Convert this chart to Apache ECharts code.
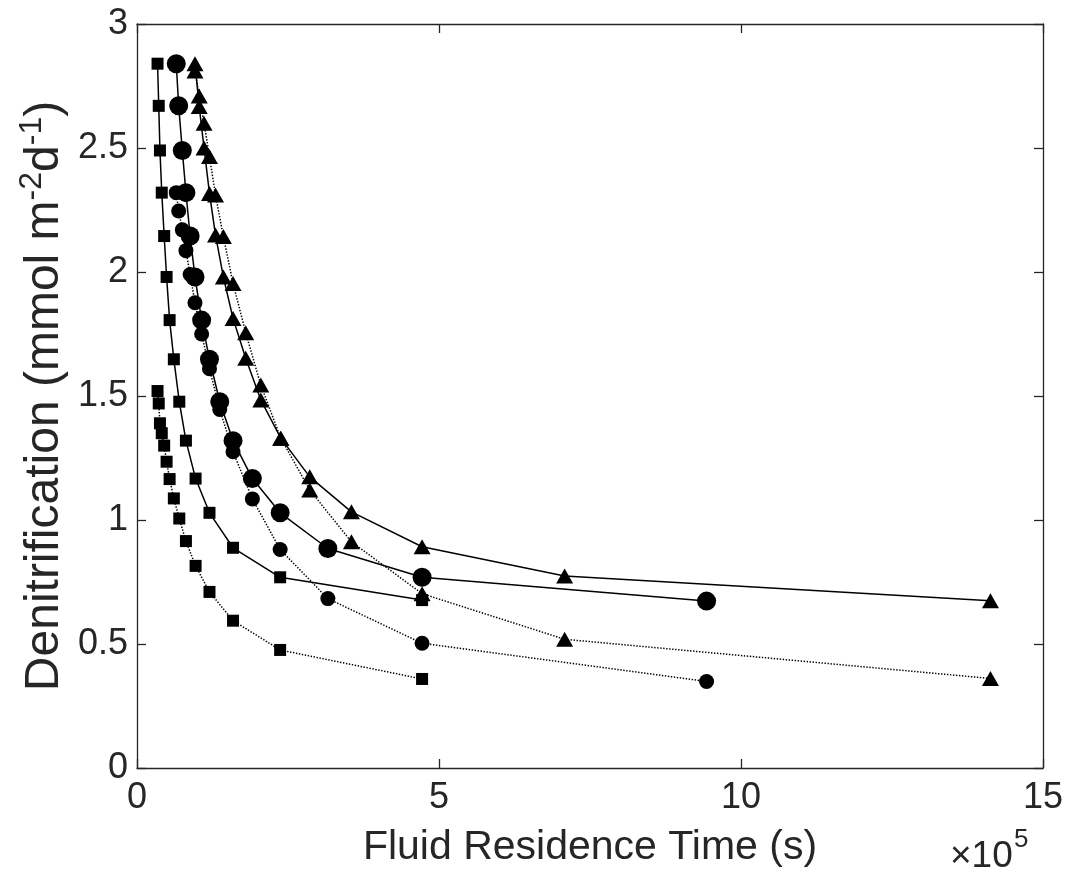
<!DOCTYPE html>
<html>
<head>
<meta charset="utf-8">
<script src="https://cdn.jsdelivr.net/npm/echarts@6/dist/echarts.min.js"></script>
<style>html,body{margin:0;padding:0;background:#fff;}#c{width:1069px;height:875px;}</style>
</head>
<body>
<div id="c"></div>
<script>
// x values in units of 1e5 s
const squareX   = [0.34,0.36,0.38,0.41,0.45,0.49,0.54,0.61,0.70,0.81,0.97,1.20,1.59,2.37,4.72];
const circleX   = [0.65,0.69,0.75,0.81,0.88,0.96,1.07,1.20,1.37,1.59,1.91,2.37,3.16,4.72,9.43];
const triangleX = [0.96,1.03,1.11,1.20,1.30,1.43,1.59,1.80,2.05,2.38,2.86,3.55,4.72,7.08,14.13];

const squareSolidY   = [2.84,2.67,2.49,2.32,2.145,1.98,1.806,1.648,1.477,1.32,1.167,1.029,0.888,0.769,0.677];
const squareDottedY  = [1.52,1.47,1.39,1.35,1.30,1.235,1.165,1.087,1.006,0.915,0.815,0.71,0.594,0.476,0.359];
const circleSolidY   = [2.84,2.67,2.49,2.32,2.145,1.98,1.806,1.648,1.477,1.32,1.167,1.029,0.885,0.769,0.673];
const circleDottedY  = [2.32,2.246,2.17,2.086,1.99,1.876,1.75,1.61,1.446,1.275,1.085,0.881,0.683,0.503,0.349];
const triangleSolidY = [2.84,2.667,2.50,2.317,2.149,1.98,1.813,1.652,1.484,1.33,1.174,1.033,0.892,0.774,0.674];
const triangleDottedY= [2.81,2.71,2.60,2.466,2.31,2.143,1.954,1.755,1.544,1.33,1.121,0.912,0.703,0.519,0.361];

const xTicks = [0,5,10,15];
const yTicks = [0,0.5,1,1.5,2,2.5,3];

const FONT = 'Liberation Sans, Arial, Helvetica, sans-serif';
const AX = '#262626';

function pairs(xs, ys){ return xs.map((x,i)=>[x, ys[i]]); }

function mk(name, xs, ys, symbol, size, dotted){
  return {
    name, type:'line', data: pairs(xs, ys),
    symbol, symbolSize: size, showSymbol:true,
    itemStyle:{color:'#000', borderWidth:0},
    lineStyle:{color:'#000', width: 1.5, type: dotted?[1.4,1.6]:'solid'},
    emphasis:{disabled:true}, z: 3
  };
}

const chart = echarts.init(document.getElementById('c'), null, {renderer:'canvas'});
const baseAxis = {
  type:'value',
  axisLine:{show:true, onZero:false, lineStyle:{color:AX, width:1.3}},
  axisTick:{show:true, inside:true, length:9, lineStyle:{color:AX, width:1.3}},
  splitLine:{show:false},
  nameMoveOverlap:false
};
chart.setOption({
  animation:false,
  backgroundColor:'#fff',
  grid:{left:137, right:26, top:24, bottom:107, containLabel:false, outerBoundsMode:'none'},
  xAxis:[
    Object.assign({}, baseAxis, {
      min:xTicks[0], max:xTicks[xTicks.length-1], interval:5, position:'bottom',
      axisLabel:{fontSize:36, fontFamily:FONT, color:AX, margin:12},
      name:'Fluid Residence Time (s)', nameLocation:'middle', nameGap:59,
      nameTextStyle:{fontSize:41, fontFamily:FONT, color:AX}
    }),
    Object.assign({}, baseAxis, {
      min:xTicks[0], max:xTicks[xTicks.length-1], interval:5, position:'top',
      axisLabel:{show:false}
    })
  ],
  yAxis:[
    Object.assign({}, baseAxis, {
      min:yTicks[0], max:yTicks[yTicks.length-1], interval:0.5, position:'left',
      axisLabel:{fontSize:36, fontFamily:FONT, color:AX, margin:9},
      name:'{a|Denitrification (mmol m}{s|-2}{a|d}{s|-1}{a|)}', nameLocation:'middle', nameGap:63,
      nameTextStyle:{
        fontFamily:FONT, color:AX,
        rich:{
          a:{fontSize:48, fontFamily:FONT, color:AX, lineHeight:58, verticalAlign:'middle'},
          s:{fontSize:32, fontFamily:FONT, color:AX, lineHeight:32, verticalAlign:'top'}
        }
      }
    }),
    Object.assign({}, baseAxis, {
      min:yTicks[0], max:yTicks[yTicks.length-1], interval:0.5, position:'right',
      axisLabel:{show:false}
    })
  ],
  graphic:[
    {type:'text', x:950, y:857, style:{text:'×10', fontSize:37, fontFamily:FONT, fill:AX, verticalAlign:'middle', align:'left'}},
    {type:'text', x:1014, y:840, style:{text:'5', fontSize:26, fontFamily:FONT, fill:AX, verticalAlign:'middle', align:'left'}}
  ],
  series:[
    mk('Square solid', squareX, squareSolidY, 'rect', 12, false),
    mk('Square dotted', squareX, squareDottedY, 'rect', 12, true),
    mk('Circle solid', circleX, circleSolidY, 'circle', 19, false),
    mk('Circle dotted', circleX, circleDottedY, 'circle', 15, true),
    mk('Triangle solid', triangleX, triangleSolidY, 'triangle', [17,15], false),
    mk('Triangle dotted', triangleX, triangleDottedY, 'triangle', [17,15], true)
  ]
});
</script>
</body>
</html>
